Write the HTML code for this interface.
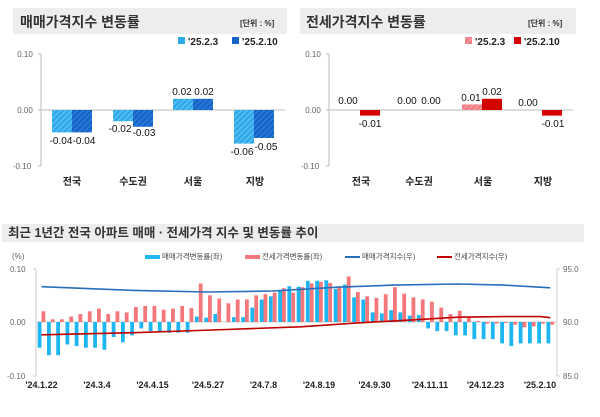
<!DOCTYPE html>
<html><head><meta charset="utf-8"><style>
body{margin:0;background:#fff;width:600px;height:412px;overflow:hidden;font-family:"Liberation Sans","Noto Sans CJK KR",sans-serif}
svg text{font-family:"Liberation Sans","Noto Sans CJK KR",sans-serif}
</style></head><body>
<svg id="s" width="600" height="412" viewBox="0 0 600 412" xmlns="http://www.w3.org/2000/svg">
<defs>
<pattern id="h1" width="4" height="4" patternUnits="userSpaceOnUse" patternTransform="rotate(45)"><rect width="4" height="4" fill="#2fa8ea"/><rect width="1.5" height="4" fill="#5bc0f2"/></pattern>
<pattern id="h2" width="4" height="4" patternUnits="userSpaceOnUse" patternTransform="rotate(45)"><rect width="4" height="4" fill="#1565c8"/><rect width="1.5" height="4" fill="#2d7ad6"/></pattern>
<pattern id="h3" width="4" height="4" patternUnits="userSpaceOnUse" patternTransform="rotate(45)"><rect width="4" height="4" fill="#f07b82"/><rect width="1.5" height="4" fill="#f59aa0"/></pattern>
</defs>
<!-- left panel -->
<rect x="13" y="8" width="274" height="26" fill="#ededed"/>
<text x="20" y="27" font-size="14" font-weight="bold" fill="#333">매매가격지수 변동률</text>
<text x="240" y="26" font-size="8" font-weight="bold" fill="#333">[단위 : %]</text>
<rect x="178" y="37" width="7" height="7" fill="#2fa8ea"/><text x="188" y="45" font-size="10" font-weight="bold" fill="#222">'25.2.3</text>
<rect x="232" y="37" width="7" height="7" fill="#1565c8"/><text x="242" y="45" font-size="10" font-weight="bold" fill="#222">'25.2.10</text>
<line x1="41" y1="54" x2="41" y2="166" stroke="#bbb"/>
<line x1="38" y1="54" x2="41" y2="54" stroke="#bbb"/><line x1="38" y1="166" x2="41" y2="166" stroke="#bbb"/>
<line x1="38" y1="110" x2="285" y2="110" stroke="#bbb"/>
<text x="25" y="57" font-size="8" fill="#666" text-anchor="middle">0.10</text>
<text x="25" y="113" font-size="8" fill="#666" text-anchor="middle">0.00</text>
<text x="22" y="169" font-size="8" fill="#666" text-anchor="middle">-0.10</text>
<rect x="52" y="110" width="20" height="22.4" fill="url(#h1)"/><rect x="72" y="110" width="20" height="22.4" fill="url(#h2)"/>
<rect x="113" y="110" width="20" height="11.2" fill="url(#h1)"/><rect x="133" y="110" width="20" height="16.8" fill="url(#h2)"/>
<rect x="173" y="98.8" width="20" height="11.2" fill="url(#h1)"/><rect x="193" y="98.8" width="20" height="11.2" fill="url(#h2)"/>
<rect x="234" y="110" width="20" height="33.6" fill="url(#h1)"/><rect x="254" y="110" width="20" height="28" fill="url(#h2)"/>
<g font-size="10" fill="#111" text-anchor="middle">
<text x="61" y="144">-0.04</text><text x="84" y="144">-0.04</text>
<text x="120" y="132">-0.02</text><text x="144" y="136">-0.03</text>
<text x="182" y="95">0.02</text><text x="204" y="95">0.02</text>
<text x="242" y="155">-0.06</text><text x="266" y="150">-0.05</text>
</g>
<g font-size="10" font-weight="bold" fill="#222" text-anchor="middle">
<text x="72" y="185">전국</text><text x="133" y="185">수도권</text><text x="193" y="185">서울</text><text x="255" y="185">지방</text></g>
<!-- right panel -->
<rect x="300" y="8" width="276" height="26" fill="#ededed"/>
<text x="306" y="27" font-size="14" font-weight="bold" fill="#333">전세가격지수 변동률</text>
<text x="528" y="26" font-size="8" font-weight="bold" fill="#333">[단위 : %]</text>
<rect x="465" y="37" width="7" height="7" fill="url(#h3)"/><text x="475" y="45" font-size="10" font-weight="bold" fill="#222">'25.2.3</text>
<rect x="514" y="37" width="7" height="7" fill="#d50000"/><text x="524" y="45" font-size="10" font-weight="bold" fill="#222">'25.2.10</text>
<line x1="329" y1="54" x2="329" y2="166" stroke="#bbb"/>
<line x1="326" y1="54" x2="329" y2="54" stroke="#bbb"/><line x1="326" y1="166" x2="329" y2="166" stroke="#bbb"/>
<line x1="326" y1="110" x2="573" y2="110" stroke="#bbb"/>
<text x="313" y="57" font-size="8" fill="#666" text-anchor="middle">0.10</text>
<text x="313" y="113" font-size="8" fill="#666" text-anchor="middle">0.00</text>
<text x="310" y="169" font-size="8" fill="#666" text-anchor="middle">-0.10</text>
<rect x="360" y="110" width="20" height="5.6" fill="#d50000"/>
<rect x="462" y="104.4" width="20" height="5.6" fill="url(#h3)"/><rect x="482" y="98.8" width="20" height="11.2" fill="#d50000"/>
<rect x="542" y="110" width="20" height="5.6" fill="#d50000"/>
<g font-size="10" fill="#111" text-anchor="middle">
<text x="348" y="104">0.00</text><text x="370" y="127">-0.01</text>
<text x="407" y="104">0.00</text><text x="431" y="104">0.00</text>
<text x="471" y="101">0.01</text><text x="492" y="95">0.02</text>
<text x="528" y="106">0.00</text><text x="553" y="127">-0.01</text>
</g>
<g font-size="10" font-weight="bold" fill="#222" text-anchor="middle">
<text x="361" y="185">전국</text><text x="419" y="185">수도권</text><text x="483" y="185">서울</text><text x="543" y="185">지방</text></g>
<!-- bottom -->
<rect x="2" y="224" width="582" height="18" fill="#ededed"/>
<text x="8" y="237" font-size="12.5" font-weight="bold" fill="#333">최근 1년간 전국 아파트 매매 · 전세가격 지수 및 변동률 추이</text>
<text x="12" y="259" font-size="8" fill="#666">(%)</text>
<rect x="145" y="255" width="15" height="4" fill="#1eb6f0"/><text x="162" y="259" font-size="7.5" fill="#444">매매가격변동률(좌)</text>
<rect x="245" y="255" width="15" height="4" fill="#f4777b"/><text x="262" y="259" font-size="7.5" fill="#444">전세가격변동률(좌)</text>
<rect x="345" y="256" width="15" height="2" fill="#2a6ebb"/><text x="362" y="259" font-size="7.5" fill="#444">매매가격지수(우)</text>
<rect x="437" y="256" width="15" height="2" fill="#c00000"/><text x="454" y="259" font-size="7.5" fill="#444">전세가격지수(우)</text>
<line x1="36" y1="269" x2="36" y2="376" stroke="#ccc"/><line x1="33" y1="269" x2="36" y2="269" stroke="#ccc"/><line x1="33" y1="376" x2="36" y2="376" stroke="#ccc"/>
<line x1="557" y1="269" x2="557" y2="376" stroke="#ccc"/><line x1="557" y1="269" x2="560" y2="269" stroke="#ccc"/><line x1="557" y1="376" x2="560" y2="376" stroke="#ccc"/>
<line x1="36" y1="322" x2="557" y2="322" stroke="#ccc"/>
<g font-size="8" fill="#666"><text x="10" y="272">0.10</text><text x="10" y="325">0.00</text><text x="7" y="379">-0.10</text>
<text x="563" y="272">95.0</text><text x="563" y="325">90.0</text><text x="563" y="379">85.0</text></g>
<g id="bars"></g>
<g font-size="9" font-weight="bold" fill="#222" text-anchor="middle" id="dates"></g>
</svg>
<script>
var S=[-0.048,-0.062,-0.062,-0.042,-0.045,-0.048,-0.048,-0.052,-0.028,-0.038,-0.025,-0.012,-0.017,-0.017,-0.02,-0.02,-0.02,0.01,0.008,0.015,0,0.009,0.009,0.027,0.042,0.048,0.06,0.067,0.066,0.077,0.077,0.078,0.062,0.07,0.046,0.042,0.018,0.016,0.022,0.018,0.012,0.013,-0.012,-0.017,-0.017,-0.025,-0.025,-0.032,-0.032,-0.032,-0.04,-0.045,-0.04,-0.04,-0.04,-0.04];
var J=[0.02,0.005,0.005,0.01,0.015,0.02,0.025,0.015,0.02,0.018,0.028,0.03,0.03,0.023,0.025,0.03,0.026,0.072,0.05,0.044,0.035,0.042,0.042,0.05,0.052,0.055,0.063,0.055,0.065,0.072,0.075,0.073,0.067,0.085,0.056,0.048,0.045,0.052,0.065,0.053,0.046,0.042,0.038,0.027,0.015,0.021,0.01,0.002,-0.003,-0.003,-0.002,-0.005,-0.01,-0.008,-0.003,-0.005];
var g=document.getElementById('bars'),h='';
function X(i){return 41.5+i*9.25}
function Y(v){return 322-v*535}
function R(v){return 322-(v-90)*10.7}
for(var i=0;i<56;i++){var x=X(i);
var y1=Y(Math.max(S[i],0)),hh=Math.abs(S[i])*535;h+='<rect x="'+(x-3.8).toFixed(1)+'" y="'+y1.toFixed(1)+'" width="3.8" height="'+hh.toFixed(1)+'" fill="#1eb6f0"/>';
y1=Y(Math.max(J[i],0));hh=Math.abs(J[i])*535;h+='<rect x="'+x.toFixed(1)+'" y="'+y1.toFixed(1)+'" width="3.8" height="'+hh.toFixed(1)+'" fill="#f4777b"/>';}
var sk=[[0,93.3],[10,92.95],[18,92.8],[25,92.9],[32,93.25],[38,93.45],[45,93.55],[50,93.45],[56,93.2]];
var jk=[[0,88.8],[10,89.0],[20,89.3],[28,89.55],[34,89.9],[40,90.2],[45,90.45],[50,90.5],[54,90.5],[55,90.4]];
function P(k){var s='';for(var i=0;i<k.length;i++){var xi=Math.min(k[i][0],55);s+=(i?'L':'M')+X(xi).toFixed(1)+' '+R(k[i][1]).toFixed(1);}return s;}
h+='<path d="'+P(sk)+'" fill="none" stroke="#2a6ebb" stroke-width="1.6"/>';
h+='<path d="'+P(jk)+'" fill="none" stroke="#c00000" stroke-width="1.6"/>';
g.innerHTML=h;
var D=["'24.1.22","'24.3.4","'24.4.15","'24.5.27","'24.7.8","'24.8.19","'24.9.30","'24.11.11","'24.12.23","'25.2.10"];
var d='';for(var k=0;k<10;k++){d+='<text x="'+(X(k*6)+(k==9?-1:0)).toFixed(1)+'" y="388">'+D[k]+'</text>';}
document.getElementById('dates').innerHTML=d;
</script>
</body></html>
